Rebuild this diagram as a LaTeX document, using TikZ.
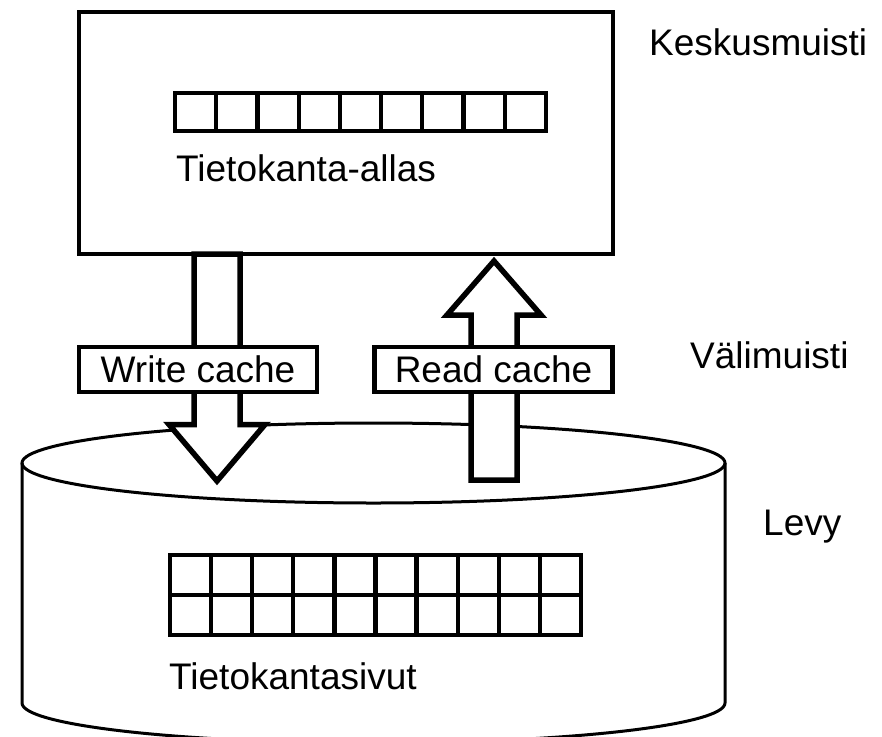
\documentclass[tikz,border=0pt]{standalone}
\usepackage{fontspec}
\setmainfont{Liberation Sans}
\begin{document}
\begin{tikzpicture}[x=1pt,y=-1pt,line join=miter,
  lbl/.style={inner sep=0pt, anchor=base west, font=\fontsize{37}{41}\selectfont},
  cyl/.style={line width=3pt},
  blockarrow/.style={line width=5.5pt, fill=white},
  gridline/.style={line width=4.3pt},
  cachebox/.style={draw, line width=4.5pt, fill=white, inner sep=0pt,
    minimum width=238pt, minimum height=45pt, text height=26.5pt, text depth=0pt,
    font=\fontsize{37}{41}\selectfont}]
\useasboundingbox (0,0) rectangle (882,736);
\clip (0,0) rectangle (882,736);
% disk (cylinder)
\draw[cyl] (22,463) -- (22,703) arc[start angle=180, end angle=0, x radius=351.5, y radius=40] -- (725,463);
\draw[cyl] (373.5,463) ellipse [x radius=351.5, y radius=40];
% block arrows
\draw[blockarrow] (194,254) -- (194,424.5) -- (169,424.5) -- (217,481) -- (265,424.5) -- (240,424.5) -- (240,254) -- cycle;
\draw[blockarrow] (471,480) -- (471,315) -- (447,315) -- (494,261) -- (541,315) -- (517,315) -- (517,480) -- cycle;
% main memory box
\node[draw, line width=4.5pt, minimum width=534pt, minimum height=242pt, inner sep=0pt] (mem) at (346,133) {};
% cache labels
\node[cachebox] (wc) at (198,369.5) {Write cache};
\node[cachebox] (rc) at (493.5,369.5) {Read cache};
% buffer pool cells
\draw[gridline] (175,93) rectangle (546,131);
\foreach \i in {1,...,8} \draw[gridline] ({175+\i*41.222},93) -- ({175+\i*41.222},131);
% database pages grid
\draw[gridline] (170,555) rectangle (581,635);
\draw[gridline] (170,595) -- (581,595);
\foreach \i in {1,...,9} \draw[gridline] ({170+\i*41.1},555) -- ({170+\i*41.1},635);
% texts
\node[lbl] (kesk) at (649,55) {Keskusmuisti};
\node[lbl] (pool) at (176,181) {Tietokanta-allas};
\node[lbl] (vali) at (690,368) {Välimuisti};
\node[lbl] (levy) at (763,535) {Levy};
\node[lbl] (sivut) at (169,689) {Tietokantasivut};
\end{tikzpicture}
\end{document}
